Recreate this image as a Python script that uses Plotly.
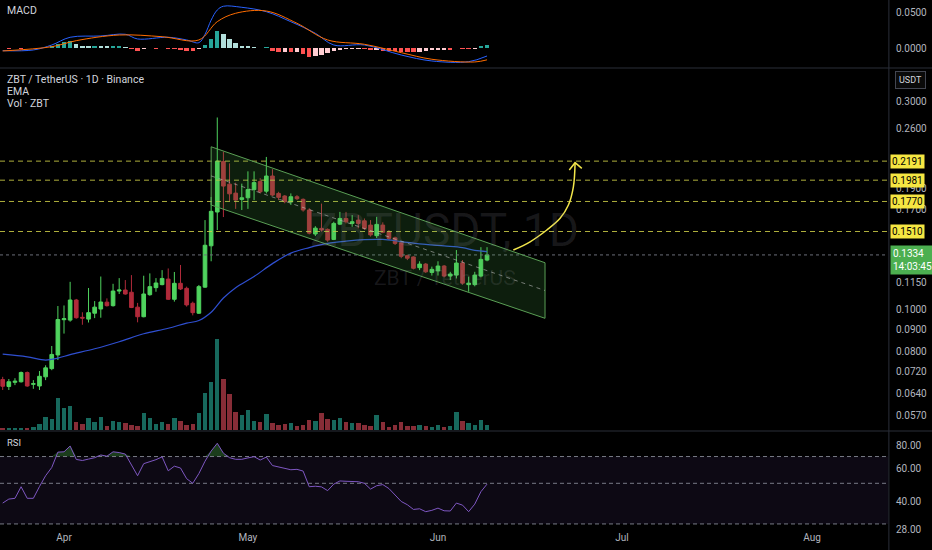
import math
import numpy as np
import pandas as pd
import plotly.graph_objects as go

# ---------------- data ----------------
dates = pd.date_range('2025-03-22', periods=80, freq='D')

opens = [0.0690, 0.0665, 0.0680, 0.0682, 0.0716, 0.0673, 0.0667, 0.0700, 0.0731, 0.0786,
         0.0947, 0.0945, 0.1051, 0.0959, 0.0950, 0.0980, 0.1002, 0.1039, 0.1020, 0.1102,
         0.1108, 0.1095, 0.1012, 0.0962, 0.1081, 0.1122, 0.1140, 0.1174, 0.1055, 0.1148,
         0.1118, 0.1033, 0.0980, 0.1125, 0.1400, 0.1674, 0.2187, 0.1940, 0.1850, 0.1789,
         0.1805, 0.1885, 0.1966, 0.1869, 0.2025, 0.1847, 0.1822, 0.1765, 0.1815, 0.1790,
         0.1692, 0.1490, 0.1535, 0.1527, 0.1448, 0.1570, 0.1618, 0.1576, 0.1604, 0.1598,
         0.1562, 0.1477, 0.1562, 0.1509, 0.1460, 0.1422, 0.1329, 0.1320, 0.1247, 0.1271,
         0.1216, 0.1226, 0.1258, 0.1193, 0.1199, 0.1278, 0.1140, 0.1140, 0.1193, 0.1298]
highs = [0.0700, 0.0692, 0.0695, 0.0720, 0.0720, 0.0688, 0.0722, 0.0744, 0.0824, 0.1018,
         0.1021, 0.1157, 0.1057, 0.0985, 0.1120, 0.1045, 0.1190, 0.1060, 0.1145, 0.1180,
         0.1168, 0.1199, 0.1035, 0.1195, 0.1210, 0.1180, 0.1231, 0.1242, 0.1219, 0.1265,
         0.1128, 0.1042, 0.1138, 0.1604, 0.1812, 0.2760, 0.2303, 0.2165, 0.1955, 0.1945,
         0.2076, 0.2076, 0.2002, 0.2240, 0.2100, 0.1863, 0.1831, 0.1847, 0.1831, 0.1799,
         0.1708, 0.1553, 0.1750, 0.1535, 0.1590, 0.1675, 0.1675, 0.1647, 0.1647, 0.1618,
         0.1604, 0.1632, 0.1585, 0.1522, 0.1470, 0.1430, 0.1336, 0.1324, 0.1290, 0.1278,
         0.1254, 0.1290, 0.1265, 0.1220, 0.1369, 0.1298, 0.1189, 0.1220, 0.1390, 0.1390]
lows = [0.0653, 0.0653, 0.0670, 0.0679, 0.0664, 0.0657, 0.0653, 0.0688, 0.0725, 0.0765,
        0.0880, 0.0937, 0.0952, 0.0922, 0.0933, 0.0955, 0.0957, 0.1015, 0.1015, 0.1085,
        0.1081, 0.1007, 0.0934, 0.0959, 0.1075, 0.1098, 0.1136, 0.1051, 0.1042, 0.1108,
        0.1015, 0.0969, 0.0976, 0.1121, 0.1290, 0.1522, 0.1630, 0.1773, 0.1702, 0.1692,
        0.1702, 0.1783, 0.1847, 0.1847, 0.1822, 0.1783, 0.1753, 0.1738, 0.1783, 0.1677,
        0.1487, 0.1474, 0.1509, 0.1430, 0.1443, 0.1562, 0.1576, 0.1548, 0.1535, 0.1522,
        0.1470, 0.1458, 0.1496, 0.1443, 0.1406, 0.1311, 0.1298, 0.1236, 0.1231, 0.1213,
        0.1196, 0.1196, 0.1185, 0.1168, 0.1178, 0.1140, 0.1098, 0.1130, 0.1185, 0.1290]
closes = [0.0666, 0.0682, 0.0684, 0.0716, 0.0667, 0.0675, 0.0702, 0.0734, 0.0788, 0.0948,
          0.0952, 0.1051, 0.0957, 0.0955, 0.0983, 0.1012, 0.1040, 0.1020, 0.1102, 0.1108,
          0.1085, 0.1010, 0.0962, 0.1085, 0.1128, 0.1150, 0.1178, 0.1055, 0.1148, 0.1114,
          0.1024, 0.0983, 0.1128, 0.1404, 0.1680, 0.2191, 0.1920, 0.1843, 0.1783, 0.1805,
          0.1885, 0.1956, 0.1863, 0.2025, 0.1831, 0.1809, 0.1768, 0.1815, 0.1796, 0.1692,
          0.1497, 0.1537, 0.1522, 0.1443, 0.1576, 0.1618, 0.1590, 0.1590, 0.1576, 0.1535,
          0.1483, 0.1568, 0.1504, 0.1456, 0.1418, 0.1324, 0.1311, 0.1243, 0.1271, 0.1220,
          0.1236, 0.1258, 0.1193, 0.1206, 0.1278, 0.1149, 0.1149, 0.1199, 0.1303, 0.1334]
volumes = [2.3, 2.3, 1.7, 2.3, 2.3, 3.3, 5.7, 13.3, 10.7, 32.3,
           21.7, 24.3, 7.7, 6.0, 11.7, 7.7, 13.3, 4.3, 9.3, 8.3,
           6.7, 5.0, 4.3, 16.7, 11.7, 6.0, 7.7, 5.7, 11.7, 9.0,
           5.0, 6.0, 17.3, 36.7, 48.3, 91.0, 50.7, 35.7, 17.7, 15.0,
           19.7, 9.3, 8.3, 15.7, 6.7, 5.3, 5.7, 7.0, 4.0, 5.0,
           10.0, 9.0, 17.3, 11.3, 10.0, 12.3, 8.3, 6.7, 6.7, 5.3,
           4.3, 14.7, 7.7, 3.3, 5.0, 7.7, 4.3, 4.0, 4.7, 4.0,
           3.3, 4.7, 3.3, 4.0, 18.3, 9.0, 6.7, 5.0, 9.7, 5.0]

ema_dates = ['2025-03-22', '2025-03-26', '2025-03-29', '2025-03-31', '2025-04-02', '2025-04-06',
             '2025-04-10', '2025-04-14', '2025-04-18', '2025-04-21', '2025-04-23', '2025-04-25',
             '2025-04-27', '2025-04-29', '2025-05-02', '2025-05-05', '2025-05-08', '2025-05-11',
             '2025-05-14', '2025-05-17', '2025-05-20', '2025-05-23', '2025-05-26', '2025-05-30',
             '2025-06-02', '2025-06-05', '2025-06-07', '2025-06-09']
ema_vals = [0.0789, 0.0778, 0.0765, 0.0773, 0.0787, 0.0812,
            0.0843, 0.0879, 0.0905, 0.0930, 0.0943, 0.0985,
            0.1062, 0.1122, 0.1190, 0.1274, 0.1347, 0.1387,
            0.1418, 0.1435, 0.1446, 0.1448, 0.1432, 0.1410,
            0.1399, 0.1387, 0.1366, 0.1358]

macd_dates = ['2025-03-22', '2025-03-27', '2025-03-30', '2025-04-02', '2025-04-07', '2025-04-11',
              '2025-04-13', '2025-04-18', '2025-04-21', '2025-04-23', '2025-04-24', '2025-04-25',
              '2025-04-26', '2025-04-27', '2025-04-30', '2025-05-04', '2025-05-08', '2025-05-12',
              '2025-05-15', '2025-05-20', '2025-05-26', '2025-05-31', '2025-06-06', '2025-06-09']
macd_vals = [-0.0031, -0.0021, 0.0049, 0.0158, 0.0176, 0.0200,
             0.0134, 0.0158, 0.0120, 0.0082, 0.0200, 0.0400,
             0.0542, 0.0595, 0.0580, 0.0518, 0.0377, 0.0214,
             0.0049, 0.0049, -0.0092, -0.0176, -0.0186, -0.0106]
signal_dates = ['2025-03-22', '2025-03-30', '2025-04-03', '2025-04-10', '2025-04-17', '2025-04-23',
                '2025-04-26', '2025-04-29', '2025-05-04', '2025-05-09', '2025-05-14', '2025-05-20',
                '2025-05-26', '2025-05-31', '2025-06-07', '2025-06-09']
signal_vals = [-0.0035, 0.0025, 0.0110, 0.0190, 0.0166, 0.0120,
               0.0378, 0.0496, 0.0528, 0.0355, 0.0120, 0.0059,
               -0.0059, -0.0152, -0.0190, -0.0160]
hist_vals = [0.0004, -0.0004, 0.0004, -0.0004, 0.0004, 0.0005, 0.0008, 0.0012, 0.0028, 0.0070,
             0.0094, 0.0108, 0.0060, 0.0038, 0.0033, 0.0033, 0.0030, 0.0028, 0.0028, 0.0028,
             0.0023, -0.0010, -0.0033, -0.0009, 0.0010, -0.0010, 0.0010, -0.0010, -0.0012, -0.0020,
             -0.0033, -0.0033, -0.0010, 0.0047, 0.0130, 0.0240, 0.0200, 0.0140, 0.0075, 0.0038,
             0.0030, 0.0023, 0.0010, 0.0014, -0.0033, -0.0047, -0.0045, -0.0056, -0.0054, -0.0080,
             -0.0113, -0.0103, -0.0094, -0.0066, -0.0042, -0.0023, -0.0014, -0.0009, -0.0008, -0.0008,
             -0.0028, -0.0019, -0.0033, -0.0038, -0.0042, -0.0047, -0.0047, -0.0052, -0.0047, -0.0033,
             -0.0028, -0.0023, -0.0019, -0.0019, 0.0009, -0.0008, -0.0008, -0.0005, 0.0038, 0.0047]

rsi_vals = [39.0, 41.0, 41.4, 47.9, 41.4, 41.4, 48.0, 55.0, 61.0, 74.0,
            74.3, 79.9, 67.5, 66.6, 67.8, 69.0, 71.4, 70.3, 74.3, 73.6,
            72.2, 63.0, 55.0, 64.0, 65.5, 67.3, 69.7, 58.5, 62.0, 60.6,
            53.0, 50.0, 56.5, 66.0, 75.0, 82.7, 73.0, 69.0, 67.6, 67.6,
            68.8, 69.9, 67.0, 69.5, 62.5, 61.5, 60.5, 59.3, 59.6, 58.3,
            47.9, 48.2, 47.8, 45.6, 49.5, 51.5, 51.3, 51.0, 51.0, 50.0,
            46.5, 48.5, 49.2, 46.8, 43.4, 39.8, 38.2, 36.0, 36.3, 35.0,
            35.6, 36.6, 35.4, 35.3, 39.0, 38.0, 35.0, 38.5, 45.0, 49.5]

levels = [0.2191, 0.1981, 0.1770, 0.1510]
last_price = 0.1334
last_time = '14:03:45'

channel_dates = ['2025-04-25 00:00', '2025-06-18 11:00']
channel_upper = [0.2364, 0.1280]
channel_lower = [0.1737, 0.0954]
channel_mid = [0.2026, 0.1105]

arrow_dates = ['2025-06-13 07:00', '2025-06-16 00:30', '2025-06-18 18:00', '2025-06-20 22:00',
               '2025-06-22 06:30', '2025-06-23 02:00', '2025-06-23 08:40']
arrow_prices = [0.1369, 0.1430, 0.1522, 0.1619, 0.1737, 0.1913, 0.2173]
arrowhead_dates = ['2025-06-22 10:00', '2025-06-23 08:40', '2025-06-24 11:00']
arrowhead_prices = [0.2090, 0.2173, 0.2109]

price_ticks = [0.3, 0.26, 0.19, 0.17, 0.115, 0.1, 0.09, 0.08, 0.072, 0.064, 0.057]
rsi_ticks = [28, 40, 60, 80]
macd_ticks = [0.0, 0.05]
month_ticks = ['2025-04-01', '2025-05-01', '2025-06-01', '2025-07-01', '2025-08-01']
month_labels = ['Apr', 'May', 'Jun', 'Jul', 'Aug']

# ---------------- styling ----------------
BG = '#000000'
TXT = '#b2b5be'
UP = '#4fd35e'
DN = '#b02a3a'
X0, X1 = '2025-03-21 13:26', '2025-08-13 09:36'
W, H, MR, MB = 932, 550, 44, 20
PW, PH = W - MR, H - MB

def py(p):  # paper y from pixel row
    return 1 - p / PH

fig = go.Figure()

# volume (behind)
vol_colors = ['#17695d' if c >= o else '#872d37' for o, c in zip(opens, closes)]
fig.add_trace(go.Bar(x=dates, y=volumes, marker=dict(color=vol_colors, line=dict(width=0)),
                     width=0.72 * 86400000, xaxis='x', yaxis='y2', hoverinfo='skip'))

# horizontal levels
for lv in levels:
    fig.add_trace(go.Scatter(x=[X0, X1], y=[lv, lv], mode='lines', xaxis='x', yaxis='y3',
                             line=dict(color='rgba(205,205,70,0.85)', width=1, dash='5px,4px'),
                             hoverinfo='skip'))
fig.add_trace(go.Scatter(x=[X0, X1], y=[last_price, last_price], mode='lines', xaxis='x', yaxis='y3',
                         line=dict(color='#6a6d78', width=1, dash='dot'), hoverinfo='skip'))

# EMA
fig.add_trace(go.Scatter(x=ema_dates, y=ema_vals, mode='lines', xaxis='x', yaxis='y3',
                         line=dict(color='#2f4fd0', width=1.2, shape='spline'), hoverinfo='skip'))

# candles
fig.add_trace(go.Candlestick(x=dates, open=opens, high=highs, low=lows, close=closes,
                             xaxis='x', yaxis='y3',
                             increasing=dict(line=dict(color=UP, width=1), fillcolor=UP),
                             decreasing=dict(line=dict(color=DN, width=1), fillcolor=DN),
                             whiskerwidth=0, hoverinfo='skip'))

# channel
ch_x = [channel_dates[0], channel_dates[1], channel_dates[1], channel_dates[0], channel_dates[0]]
ch_y = [channel_upper[0], channel_upper[1], channel_lower[1], channel_lower[0], channel_upper[0]]
fig.add_trace(go.Scatter(x=ch_x, y=ch_y, mode='lines', fill='toself',
                         fillcolor='rgba(76,175,80,0.17)', line=dict(color='#5a9f55', width=1),
                         xaxis='x', yaxis='y3', hoverinfo='skip'))
fig.add_trace(go.Scatter(x=channel_dates, y=channel_mid, mode='lines', xaxis='x', yaxis='y3',
                         line=dict(color='rgba(200,200,200,0.55)', width=1, dash='4px,4px'),
                         hoverinfo='skip'))

# arrow
fig.add_trace(go.Scatter(x=arrow_dates, y=arrow_prices, mode='lines', xaxis='x', yaxis='y3',
                         line=dict(color='#f2e64b', width=1.5, shape='spline'), hoverinfo='skip'))
fig.add_trace(go.Scatter(x=arrowhead_dates, y=arrowhead_prices, mode='lines', xaxis='x', yaxis='y3',
                         line=dict(color='#f2e64b', width=1.5), hoverinfo='skip'))

# MACD pane
hcols = []
prev = 0.0
for v in hist_vals:
    if v >= 0:
        hcols.append('#26a69a' if v >= prev else '#b2dfdb')
    else:
        hcols.append('#ff5252' if v <= prev else '#ffcdd2')
    prev = v
fig.add_trace(go.Bar(x=dates, y=hist_vals, marker=dict(color=hcols, line=dict(width=0)),
                     width=0.72 * 86400000, xaxis='x', yaxis='y', hoverinfo='skip'))
fig.add_trace(go.Scatter(x=macd_dates, y=macd_vals, mode='lines', xaxis='x', yaxis='y',
                         line=dict(color='#2962ff', width=1, shape='spline'), hoverinfo='skip'))
fig.add_trace(go.Scatter(x=signal_dates, y=signal_vals, mode='lines', xaxis='x', yaxis='y',
                         line=dict(color='#ff6d00', width=1, shape='spline'), hoverinfo='skip'))

# RSI pane
fig.add_trace(go.Scatter(x=[X0, X1], y=[30, 30], mode='lines', line=dict(width=0),
                         xaxis='x', yaxis='y4', hoverinfo='skip'))
fig.add_trace(go.Scatter(x=[X0, X1], y=[70, 70], mode='lines', line=dict(width=0), fill='tonexty',
                         fillcolor='rgba(126,87,194,0.10)', xaxis='x', yaxis='y4', hoverinfo='skip'))
fig.add_trace(go.Scatter(x=dates, y=[70] * len(dates), mode='lines', line=dict(width=0),
                         xaxis='x', yaxis='y4', hoverinfo='skip'))
fig.add_trace(go.Scatter(x=dates, y=np.maximum(rsi_vals, 70), mode='lines', line=dict(width=0),
                         fill='tonexty', fillcolor='rgba(76,175,80,0.35)',
                         xaxis='x', yaxis='y4', hoverinfo='skip'))
for lv in (70, 50, 30):
    fig.add_trace(go.Scatter(x=[X0, X1], y=[lv, lv], mode='lines', xaxis='x', yaxis='y4',
                             line=dict(color='#787b86', width=1, dash='4px,3px'), hoverinfo='skip'))
fig.add_trace(go.Scatter(x=dates, y=rsi_vals, mode='lines', xaxis='x', yaxis='y4',
                         line=dict(color='#7e57c2', width=1), hoverinfo='skip'))

axis_common = dict(showgrid=False, zeroline=False, showline=False, color=TXT,
                   tickfont=dict(size=10, color=TXT), ticks='outside', ticklen=5,
                   tickcolor='rgba(0,0,0,0)', fixedrange=True)

fig.update_layout(
    width=W, height=H, margin=dict(l=0, r=MR, t=0, b=MB),
    paper_bgcolor=BG, plot_bgcolor=BG, showlegend=False,
    font=dict(family='Roboto, Arial, sans-serif', size=10, color=TXT),
    bargap=0, boxgap=0.15, hovermode=False,
    xaxis=dict(domain=[0, 1], anchor='y4', type='date', range=[X0, X1],
               tickvals=month_ticks, ticktext=month_labels, rangeslider=dict(visible=False),
               showgrid=False, zeroline=False, showline=False, ticks='',
               tickfont=dict(size=10, color=TXT), fixedrange=True),
    yaxis=dict(domain=[py(67), 1], anchor='x', side='right', range=[-0.0261, 0.0683],
               tickvals=macd_ticks, tickformat='.4f', **axis_common),
    yaxis2=dict(domain=[py(430), py(69)], anchor='x', range=[0, 361], visible=False,
                fixedrange=True),
    yaxis3=dict(overlaying='y2', anchor='x', side='right', type='log',
                range=[math.log10(0.05284), math.log10(0.3567)],
                tickvals=price_ticks, tickformat='.4f', **axis_common),
    yaxis4=dict(domain=[0, py(432)], anchor='x', side='right', type='log',
                range=[math.log10(27.8), math.log10(95.3)],
                tickvals=rsi_ticks, tickformat='.2f', **axis_common),
)

SEP = '#2a2e39'
shapes = [
    dict(type='line', xref='paper', yref='paper', x0=0, x1=W / PW, y0=py(68), y1=py(68),
         line=dict(color=SEP, width=1)),
    dict(type='line', xref='paper', yref='paper', x0=0, x1=W / PW, y0=py(431), y1=py(431),
         line=dict(color=SEP, width=1)),
    dict(type='line', xref='paper', yref='paper', x0=1.001, x1=1.001, y0=-MB / PH, y1=1,
         line=dict(color=SEP, width=1)),
]
fig.update_layout(shapes=shapes)

ann = []
def txt(s, x, y, size=10.5, color='#d1d4dc', **kw):
    ann.append(dict(text=s, xref='paper', yref='paper', x=x / PW, y=py(y), xanchor='left',
                    yanchor='middle', showarrow=False, font=dict(size=size, color=color), **kw))

txt('MACD', 5, 11)
txt('ZBT / TetherUS · 1D · Binance', 5, 80)
txt('EMA', 5, 92)
txt('Vol · ZBT', 5, 103)
txt('RSI', 5, 442, size=9.5)

# watermark
ann.append(dict(text='ZBTUSDT, 1D', xref='paper', yref='paper', x=444 / PW, y=py(230),
                xanchor='center', yanchor='middle', showarrow=False,
                font=dict(size=46, color='rgba(150,150,160,0.16)')))
ann.append(dict(text='ZBT / TetherUS', xref='paper', yref='paper', x=445 / PW, y=py(278),
                xanchor='center', yanchor='middle', showarrow=False,
                font=dict(size=21, color='rgba(150,150,160,0.16)')))

# USDT box
ann.append(dict(text='USDT', xref='paper', yref='paper', x=910 / PW, y=py(80), xanchor='center',
                yanchor='middle', showarrow=False, font=dict(size=9, color='#d1d4dc'),
                bgcolor='#0a0a0a', bordercolor='#434651', borderwidth=1, borderpad=3))

# level labels
for lv in levels:
    ann.append(dict(text=f'{lv:.4f}', xref='paper', yref='y3', x=890 / PW, y=math.log10(lv),
                    xanchor='left', yanchor='middle', showarrow=False,
                    font=dict(size=10, color='#000000'), bgcolor='#f5e642', borderpad=1))
ann.append(dict(text=f'{last_price:.4f}<br>{last_time}', xref='paper', yref='y3', x=890 / PW,
                y=math.log10(last_price), yshift=-5, xanchor='left', yanchor='middle',
                showarrow=False, align='left', font=dict(size=10, color='#ffffff'),
                bgcolor='#4caf50', borderpad=2))

fig.update_layout(annotations=ann)
fig.write_html('out.html', config={'displayModeBar': False, 'staticPlot': True},
               post_script="document.body.style.margin='0';document.body.style.background='#000';")
